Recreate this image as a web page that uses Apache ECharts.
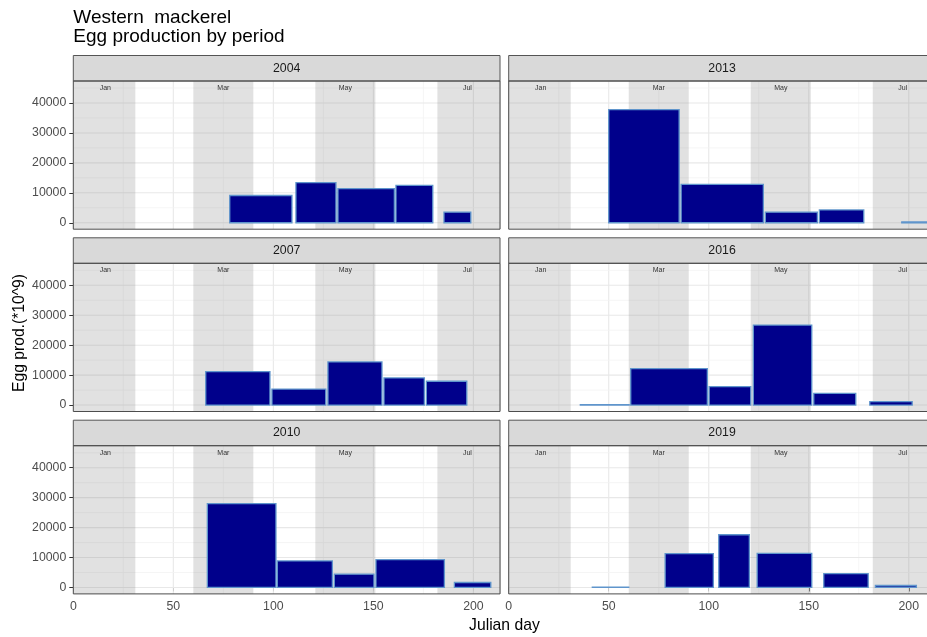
<!DOCTYPE html>
<html>
<head>
<meta charset="utf-8">
<title>Western mackerel - Egg production by period</title>
<script src="https://cdn.jsdelivr.net/npm/echarts@6/dist/echarts.min.js"></script>
<style>
  html, body { margin: 0; padding: 0; background: #fff; }
  #chart { width: 927px; height: 637px; }
</style>
</head>
<body>
<div id="chart"></div>
<script>
// panels in facet order (left column then right column)
const years = ['2004', '2007', '2010', '2013', '2016', '2019'];

// sampling periods: julian day start / end, egg production (*10^9)
const start2004 = [78.2, 111.3, 132.3, 161.3, 185.3];
const end2004 = [109.3, 131.3, 160.5, 179.7, 198.7];
const eggs2004 = [9100, 13400, 11400, 12500, 3550];

const start2007 = [66.2, 99.3, 127.3, 155.3, 176.5];
const end2007 = [98.3, 126.2, 154.3, 175.5, 196.7];
const eggs2007 = [11200, 5350, 14400, 9050, 7950];

const start2010 = [67, 102, 130.5, 151.3, 190.5];
const end2010 = [101.3, 129.5, 150.3, 185.5, 208.7];
const eggs2010 = [28000, 8850, 4450, 9300, 1650];

const start2013 = [50, 86.2, 128.3, 155.3, 196.5];
const end2013 = [85.2, 127.3, 154.3, 177.5, 211];
const eggs2013 = [37800, 12850, 3550, 4300, 250];

const start2016 = [35.8, 61, 100.2, 122.3, 152.5, 180.5];
const end2016 = [60.2, 99.3, 121, 151.5, 173.5, 201.7];
const eggs2016 = [150, 12200, 6150, 26700, 3900, 1150];

const start2019 = [41.8, 78.2, 105, 124.2, 157.5, 183.3];
const end2019 = [60, 102.3, 120.3, 151.5, 179.7, 203.8];
const eggs2019 = [120, 11300, 17600, 11400, 4650, 650];

// month shading
const monthNames = ['Jan', 'Mar', 'May', 'Jul'];
const monthStart = [0, 60, 121, 182];
const monthEnd = [31, 90, 151, 214];
const monthLabelX = [16, 75, 136, 197];
const monthLabelY = 45000;

// ticks
const xMajor = [0, 50, 100, 150, 200];
const xMinor = [25, 75, 125, 175];
const yMajor = [0, 10000, 20000, 30000, 40000];
const yMinor = [5000, 15000, 25000, 35000, 45000];

const starts = [start2004, start2007, start2010, start2013, start2016, start2019];
const ends = [end2004, end2007, end2010, end2013, end2016, end2019];
const eggs = [eggs2004, eggs2007, eggs2010, eggs2013, eggs2016, eggs2019];

// layout
const W = 927;
const X_MIN = 0, X_MAX = 213.3;
const Y_MIN = -2150, Y_MAX = 47350;
const colLeft = [73.3, 508.7];
const panelW = 426.7;
const stripTop = [55.5, 237.8, 420.2];
const stripH = 25.5;
const plotH = 148.2;
const FONT = '"Liberation Sans", Arial, sans-serif';

// the right column runs off the canvas edge: keep its scale, cut its extent
const pxPerDay = panelW / (X_MAX - X_MIN);
const gridW = colLeft.map(l => Math.min(panelW, W - l));
const gridXMax = gridW.map(w => X_MIN + w / pxPerDay);

const chart = echarts.init(document.getElementById('chart'), null, { renderer: 'canvas' });

const grids = [], xAxes = [], yAxes = [], series = [], graphics = [];

function gridItem(params, api) {
  const v = api.value(0), kind = api.value(1);
  let p0, p1;
  if (kind < 2) {
    p0 = api.coord([v, Y_MIN]);
    p1 = api.coord([v, Y_MAX]);
  } else {
    p0 = api.coord([X_MIN, v]);
    p1 = api.coord([X_MAX, v]);
  }
  const major = kind === 0 || kind === 2;
  return {
    type: 'line',
    shape: { x1: p0[0], y1: p0[1], x2: p1[0], y2: p1[1] },
    style: { stroke: major ? '#e8e8e8' : '#f2f2f2', lineWidth: major ? 1.1 : 0.8 }
  };
}

function bandItem(params, api) {
  const p0 = api.coord([api.value(0), Y_MAX]);
  const p1 = api.coord([api.value(1), Y_MIN]);
  return {
    type: 'rect',
    shape: { x: p0[0], y: p0[1], width: p1[0] - p0[0], height: p1[1] - p0[1] },
    style: { fill: 'rgba(128,128,128,0.24)' }
  };
}

function monthLabelItem(params, api) {
  const p = api.coord([api.value(0), api.value(1)]);
  return {
    type: 'text',
    style: {
      text: monthNames[params.dataIndex], x: p[0], y: p[1],
      align: 'center', verticalAlign: 'middle',
      fontSize: 7, fontFamily: FONT, fill: '#333'
    }
  };
}

function barItem(params, api) {
  const p0 = api.coord([api.value(0), api.value(2)]);
  const p1 = api.coord([api.value(1), 0]);
  return {
    type: 'rect',
    shape: { x: p0[0], y: p0[1], width: p1[0] - p0[0], height: p1[1] - p0[1] },
    style: { fill: '#00008b', stroke: '#5f95cc', lineWidth: 1.3 }
  };
}

const gridData = [].concat(
  xMajor.map(v => [v, 0]), xMinor.map(v => [v, 1]),
  yMajor.map(v => [v, 2]), yMinor.map(v => [v, 3])
);

years.forEach((year, i) => {
  const col = Math.floor(i / 3);
  const row = i % 3;
  const left = colLeft[col];
  const top = stripTop[row] + stripH;
  const bottomRow = row === 2;

  grids.push({ left: left, top: top, width: gridW[col], height: plotH, containLabel: false });

  xAxes.push({
    type: 'value', gridIndex: i, min: X_MIN, max: gridXMax[col],
    show: bottomRow,
    axisLine: { show: false },
    splitLine: { show: false },
    axisTick: { show: true, length: 4, lineStyle: { color: '#333', width: 1 }, customValues: xMajor },
    axisLabel: {
      show: true, customValues: xMajor, margin: 7,
      color: '#4d4d4d', fontSize: 12.3, fontFamily: FONT,
      formatter: v => String(v)
    }
  });

  yAxes.push({
    type: 'value', gridIndex: i, min: Y_MIN, max: Y_MAX,
    show: col === 0,
    axisLine: { show: false },
    splitLine: { show: false },
    axisTick: { show: true, length: 4, lineStyle: { color: '#333', width: 1 }, customValues: yMajor },
    axisLabel: {
      show: true, customValues: yMajor, margin: 7,
      color: '#4d4d4d', fontSize: 12.3, fontFamily: FONT,
      formatter: v => String(v)
    }
  });

  series.push({
    type: 'custom', xAxisIndex: i, yAxisIndex: i, z: 1, clip: true, silent: true,
    renderItem: gridItem, data: gridData
  });
  series.push({
    type: 'custom', xAxisIndex: i, yAxisIndex: i, z: 2, clip: true, silent: true,
    renderItem: bandItem, data: monthStart.map((s, k) => [s, monthEnd[k]])
  });
  series.push({
    type: 'custom', xAxisIndex: i, yAxisIndex: i, z: 3, clip: true, silent: true,
    renderItem: monthLabelItem, data: monthLabelX.map(x => [x, monthLabelY])
  });
  series.push({
    type: 'custom', xAxisIndex: i, yAxisIndex: i, z: 4, clip: true,
    renderItem: barItem,
    encode: { x: [0, 1], y: 2 },
    data: starts[i].map((s, k) => [s, ends[i][k], eggs[i][k]])
  });

  // strip + panel border (full panel width, may run past the canvas)
  graphics.push({
    type: 'rect', z: 100,
    shape: { x: left, y: stripTop[row], width: panelW, height: stripH },
    style: { fill: '#d9d9d9', stroke: '#555', lineWidth: 1 }
  });
  graphics.push({
    type: 'text', z: 101,
    x: left + panelW / 2, y: stripTop[row] + stripH / 2,
    style: {
      text: year, align: 'center', verticalAlign: 'middle',
      fontSize: 12.3, fontFamily: FONT, fill: '#1a1a1a'
    }
  });
  graphics.push({
    type: 'rect', z: 100,
    shape: { x: left, y: top, width: panelW, height: plotH },
    style: { fill: 'none', stroke: '#4d4d4d', lineWidth: 1 }
  });
});

graphics.push({
  type: 'text', z: 101, x: 73.3, y: 8,
  style: {
    text: 'Western  mackerel\nEgg production by period',
    fontSize: 19, lineHeight: 19.5, fontFamily: FONT, fill: '#000'
  }
});
graphics.push({
  type: 'text', z: 101, x: 504.4, y: 626,
  style: {
    text: 'Julian day', align: 'center', verticalAlign: 'middle',
    fontSize: 15.7, fontFamily: FONT, fill: '#000'
  }
});
graphics.push({
  type: 'text', z: 101, x: 19.5, y: 333, rotation: Math.PI / 2,
  style: {
    text: 'Egg prod.(*10^9)', align: 'center', verticalAlign: 'middle',
    fontSize: 15.7, fontFamily: FONT, fill: '#000'
  }
});

chart.setOption({
  animation: false,
  backgroundColor: '#fff',
  grid: grids,
  xAxis: xAxes,
  yAxis: yAxes,
  series: series,
  graphic: { elements: graphics }
});
</script>
</body>
</html>
